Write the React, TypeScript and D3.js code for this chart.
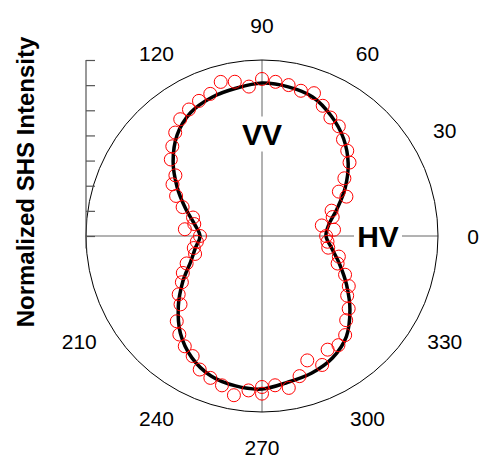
import React, { useEffect, useRef } from 'react';
import * as d3 from 'd3';

// measured points, every 5 degrees (one extra reading at 270)
const measAngles = [
  0, 5, 10, 15, 20, 25, 30, 35, 40, 45, 50, 55, 60, 65, 70, 75, 80, 85,
  90, 95, 100, 105, 110, 115, 120, 125, 130, 135, 140, 145, 150, 155, 160, 165, 170, 175,
  180, 185, 190, 195, 200, 205, 210, 215, 220, 225, 230, 235, 240, 245, 250, 255, 260, 265,
  270, 270, 275, 280, 285, 290, 295, 300, 305, 310, 315, 320, 325, 330, 335, 340, 345, 350, 355
];
const measValues = [
  0.51, 0.575, 0.483, 0.582, 0.589, 0.741, 0.706, 0.8, 0.909, 0.959, 1.002, 1.065, 1.088, 1.143, 1.209, 1.196, 1.219, 1.231,
  1.249, 1.193, 1.246, 1.269, 1.203, 1.186, 1.162, 1.134, 1.074, 1.009, 0.947, 0.841, 0.822, 0.754, 0.672, 0.568, 0.547, 0.616,
  0.493, 0.52, 0.551, 0.551, 0.638, 0.695, 0.736, 0.809, 0.846, 0.959, 1.023, 1.071, 1.103, 1.172, 1.201, 1.23, 1.286, 1.233,
  1.201, 1.254, 1.192, 1.227, 1.154, 1.053, 1.132, 1.044, 1.06, 1.029, 0.947, 0.9, 0.827, 0.797, 0.729, 0.64, 0.633, 0.535, 0.523
];

// fit curve, every 10 degrees
const fitAngles = [0, 10, 20, 30, 40, 50, 60, 70, 80, 90, 100, 110, 120, 130, 140, 150, 160, 170,
  180, 190, 200, 210, 220, 230, 240, 250, 260, 270, 280, 290, 300, 310, 320, 330, 340, 350];
const fitValues = [0.509, 0.541, 0.636, 0.764, 0.895, 1.01, 1.102, 1.177, 1.205, 1.217, 1.193, 1.173, 1.134, 1.05, 0.923, 0.78, 0.649, 0.545,
  0.493, 0.537, 0.605, 0.728, 0.869, 1.01, 1.117, 1.185, 1.211, 1.217, 1.181, 1.159, 1.12, 1.044, 0.913, 0.777, 0.657, 0.563];

const angleLabels = [0, 30, 60, 90, 120, 210, 240, 270, 300, 330];
const radialTicks = [0, 0.2, 0.4, 0.6, 0.8, 1.0, 1.2, 1.4];

export default function App() {
  const ref = useRef<SVGSVGElement>(null);

  useEffect(() => {
    const width = 483, height = 459;
    const cx = 262, cy = 236, R = 176;
    const font = "'Liberation Sans', Arial, sans-serif";

    const svg = d3.select(ref.current);
    svg.selectAll('*').remove();

    const r = d3.scaleLinear().domain([0, 1.4]).range([0, R]);
    const rad = (deg: number) => deg * Math.PI / 180;

    const g = svg.append('g').attr('transform', `translate(${cx},${cy})`);

    // crosshair
    g.append('line').attr('x1', -R).attr('x2', R).attr('y1', 0).attr('y2', 0)
      .attr('stroke', '#666').attr('stroke-width', 1);
    g.append('line').attr('x1', 0).attr('x2', 0).attr('y1', -R).attr('y2', R)
      .attr('stroke', '#666').attr('stroke-width', 1);

    // outer circle
    g.append('circle').attr('r', r(1.4)).attr('fill', 'none')
      .attr('stroke', '#000').attr('stroke-width', 1);

    // angle labels
    g.selectAll('text.ang')
      .data(angleLabels)
      .enter()
      .append('text')
      .attr('class', 'ang')
      .attr('x', d => 211 * Math.cos(rad(d)))
      .attr('y', d => -211 * Math.sin(rad(d)))
      .attr('dy', '0.36em')
      .attr('text-anchor', 'middle')
      .style('font-family', font)
      .style('font-size', '21px')
      .text(d => String(d));

    // radial axis on the left
    const y = d3.scaleLinear().domain([0, 1.4]).range([cy, cy - R]);
    const ax = svg.append('g').attr('transform', `translate(${cx - R},0)`);
    ax.append('line').attr('x1', 0).attr('x2', 0)
      .attr('y1', y(1.4)).attr('y2', y(-0.1))
      .attr('stroke', '#555').attr('stroke-width', 1.2);
    ax.call(d3.axisRight(y).tickValues(radialTicks).tickSize(9).tickSizeOuter(0).tickFormat(() => ''));
    ax.select('.domain').remove();
    ax.selectAll('.tick line').attr('stroke', '#555').attr('stroke-width', 1.2);

    // labels with white boxes
    const addLabel = (txt: string, x: number, yy: number, w: number, h: number) => {
      g.append('rect').attr('x', x - w / 2).attr('y', yy - h / 2).attr('width', w).attr('height', h).attr('fill', '#fff');
      g.append('text').attr('x', x).attr('y', yy).attr('dy', '0.36em')
        .attr('text-anchor', 'middle')
        .style('font-family', font).style('font-size', '30px').style('font-weight', 'bold')
        .text(txt);
    };
    addLabel('VV', 0, -102, 46, 35);
    addLabel('HV', 116, 0, 48, 30);

    // fit curve
    const fit = fitAngles.map((a, i) => ({ a, v: fitValues[i] }));
    const line = d3.lineRadial<{ a: number, v: number }>()
      .angle(d => rad(90 - d.a))
      .radius(d => r(d.v))
      .curve(d3.curveCardinalClosed);
    g.append('path').attr('d', line(fit) as string)
      .attr('fill', 'none').attr('stroke', '#000').attr('stroke-width', 3.5);

    // measured points
    const meas = measAngles.map((a, i) => ({ a, v: measValues[i] }));
    g.selectAll('circle.pt')
      .data(meas)
      .enter()
      .append('circle')
      .attr('class', 'pt')
      .attr('cx', d => r(d.v) * Math.cos(rad(d.a)))
      .attr('cy', d => -r(d.v) * Math.sin(rad(d.a)))
      .attr('r', 6.5)
      .attr('fill', 'none')
      .attr('stroke', '#ff0000')
      .attr('stroke-width', 1);

    // y title
    svg.append('text')
      .attr('transform', `translate(25,182) rotate(-90)`)
      .attr('text-anchor', 'middle')
      .attr('dy', '0.36em')
      .style('font-family', font).style('font-size', '24px').style('font-weight', 'bold')
      .text('Normalized SHS Intensity');

    svg.attr('width', width).attr('height', height);
  }, []);

  return (
    <svg ref={ref} width={483} height={459}
      style={{ position: 'absolute', left: 0, top: 0, background: '#fff' }} />
  );
}
